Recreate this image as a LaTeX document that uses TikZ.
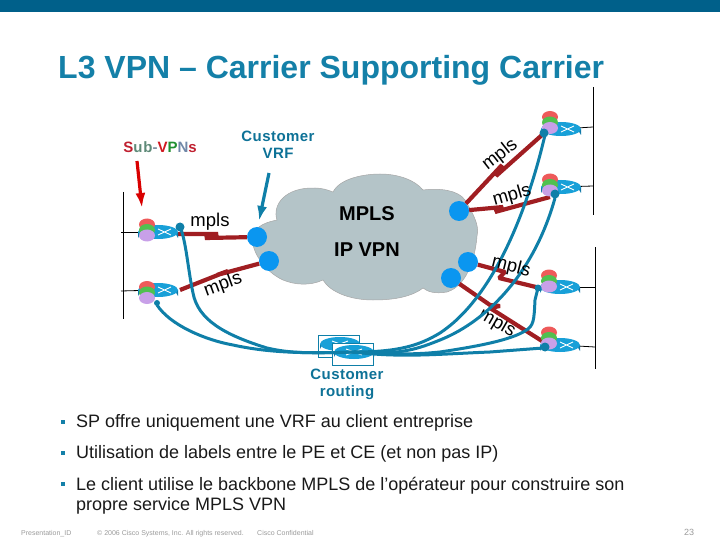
\documentclass[tikz,border=0pt]{standalone}
\usepackage{fontspec}
\usetikzlibrary{arrows.meta}
\setmainfont{Liberation Sans}
\definecolor{band}{HTML}{00608A}
\definecolor{wirec}{HTML}{0F7FA8}
\definecolor{linkc}{HTML}{A01E22}
\definecolor{cloudc}{HTML}{B4C4C8}
\definecolor{pe}{HTML}{0A96F0}
\definecolor{rtop}{HTML}{18A0D8}
\definecolor{rbot}{HTML}{0F78A8}
\definecolor{vred}{HTML}{EE5A5A}
\definecolor{vgreen}{HTML}{50C050}
\definecolor{vlil}{HTML}{C8A0E8}
\definecolor{foot}{HTML}{9A9A9A}
\definecolor{titlec}{HTML}{1480A8}
\tikzset{
 x=1pt,y=-1pt,
 wire/.style={draw=wirec,line width=3pt},
 dot/.style={fill=wirec},
 mlink/.style={draw=linkc,line width=4.2pt,line join=bevel},
 penode/.style={circle,fill=pe,minimum size=20pt,inner sep=0pt},
 seg/.style={draw=black,line width=0.8pt},
 ml/.style={font=\fontsize{18.5}{18.5}\selectfont,inner sep=0pt},
 big/.style={font=\bfseries\fontsize{20}{20}\selectfont,inner sep=0pt},
 bul/.style={font=\fontsize{18}{20}\selectfont,anchor=base west,inner sep=0pt,text=black!90},
 bsq/.style={fill=titlec,minimum size=4.5pt,inner sep=0pt},
 ft/.style={font=\fontsize{7}{8}\selectfont,text=foot,anchor=base west,inner sep=0pt},
 lab/.style={font=\bfseries\fontsize{15}{17}\selectfont\addfontfeatures{LetterSpace=3},text=wirec!90!black,align=center,inner sep=0pt},
 arr/.style={line width=3.2pt,-{Latex[length=15pt,width=10pt]}},
}
% #1 centre, #2 disc dx, #3 disc dy
\newcommand{\rtr}[3]{%
 \fill[rbot] (#1) ++(-20,0) -- ++(0,6) arc[x radius=20,y radius=7,start angle=180,end angle=360] -- ++(0,-6) -- cycle;
 \fill[rtop] (#1) ellipse[x radius=20,y radius=7];
 \draw[white,line width=0.9pt] (#1) ++(0,-3) -- ++(13,6) ++(-13,0) -- ++(13,-6);
 \fill[vred] (#1) ++(#2,#3) ++(0,-5.5) ellipse[x radius=8,y radius=6];
 \fill[vgreen] (#1) ++(#2,#3) ellipse[x radius=8,y radius=6];
 \fill[vlil] (#1) ++(#2,#3) ++(0,5.5) ellipse[x radius=8,y radius=6];
}
\newcommand{\crtr}[1]{%
 \draw[wirec,line width=0.8pt,fill=white] (#1) ++(-22,-9) rectangle ++(41,22);
 \fill[rbot] (#1) ++(-20,0) -- ++(0,5) arc[x radius=20,y radius=7,start angle=180,end angle=360] -- ++(0,-5) -- cycle;
 \fill[rtop] (#1) ellipse[x radius=20,y radius=7];
 \draw[white,line width=0.9pt] (#1) ++(-8,-3) -- ++(16,6) ++(-16,0) -- ++(16,-6);
}
\begin{document}
\begin{tikzpicture}
\useasboundingbox (0,0) rectangle (720,540);
\fill[band] (0,0) rectangle (720,12);
\node[anchor=base west,inner sep=0pt,font=\bfseries\fontsize{32}{36}\selectfont,text=titlec] (title) at (58,79) {L3 VPN – Carrier Supporting Carrier};

\coordinate (la1) at (123,192); \coordinate (la2) at (123,319);
\draw[seg] (la1) -- (la2);
\coordinate (ra1) at (593,87); \coordinate (ra2) at (593,215);
\draw[seg] (ra1) -- (ra2);
\coordinate (rb1) at (595,247); \coordinate (rb2) at (595,369);
\draw[seg] (rb1) -- (rb2);

\fill[cloudc,draw=black!35,line width=0.5pt] (277,220)
 .. controls (272,205) and (285,187) .. (315,188)
 .. controls (322,188) and (328,190) .. (333,192)
 .. controls (340,178) and (365,174) .. (380,174)
 .. controls (398,174) and (415,180) .. (423,190)
 .. controls (440,188) and (458,190) .. (465,200)
 .. controls (472,212) and (480,225) .. (477,236)
 .. controls (476,250) and (470,285) .. (447,292)
 .. controls (435,294) and (428,292) .. (423,288)
 .. controls (410,298) and (390,300) .. (373,300)
 .. controls (350,300) and (330,292) .. (323,280)
 .. controls (310,286) and (295,285) .. (283,280)
 .. controls (265,272) and (250,250) .. (253,237)
 .. controls (255,225) and (268,222) .. (277,220) -- cycle;

\node[big] (mplsT) at (367,214) {MPLS};
\node[big] (ipT) at (367,250) {IP VPN};

\node[penode] (pe1) at (257,237) {};
\node[penode] (pe2) at (269,261) {};
\node[penode] (pe3) at (459,211) {};
\node[penode] (pe4) at (468,262) {};
\node[penode] (pe5) at (451,278) {};

\coordinate (r1) at (158,232);
\coordinate (r2) at (158,290);
\coordinate (r3) at (561,129);
\coordinate (r4) at (561,187);
\coordinate (r5) at (560,287);
\coordinate (r6) at (560,345);
\coordinate (c1) at (340,344);
\coordinate (c2) at (354,352);

\node[ml,rotate=-30] (m6) at (497,323) {mpls};

\draw[mlink] (pe1) -- (205,238) -- (218,234) -- (178,234);
\draw[mlink] (pe2) -- (217,275) -- (228,271) -- (180,290);
\draw[mlink] (pe3) -- (502,165) -- (496,176) -- (542,135);
\draw[mlink] (pe3) -- (503,207) -- (495,212) -- (550,197);
\draw[mlink] (pe4) -- (505,272) -- (499,278) -- (540,288);
\draw[mlink] (pe5) -- (490,305) -- (500,306) -- (490,308) -- (542,341);

\draw[seg] (r1) -- (121,232);
\draw[seg] (r2) -- (121,291);
\draw[seg] (r3) -- (593,127);
\draw[seg] (r4) -- (593,186);
\draw[seg] (r5) -- (595,287);
\draw[seg] (r6) -- (595,347);

\rtr{r1}{-11}{-2}
\rtr{r2}{-11}{2.5}
\rtr{r3}{-11}{-6.5}
\rtr{r4}{-11}{-2}
\rtr{r5}{-11}{-6}
\rtr{r6}{-11}{-7}

\crtr{c1}
\crtr{c2}

\draw[wire] (180,227) .. controls (186,240) and (188,270) .. (193,293) .. controls (198,320) and (225,335) .. (267,348) .. controls (285,352) and (300,354) .. (c2);
\draw[wire] (157,305) .. controls (170,325) and (205,340) .. (233,345) .. controls (265,352) and (300,354) .. (c2);
\draw[wire] (c2) .. controls (400,352) and (420,345) .. (440,333) .. controls (490,300) and (525,220) .. (545,135);
\draw[wire] (c2) .. controls (400,356) and (420,348) .. (440,340) .. controls (490,320) and (535,270) .. (555,198);
\draw[wire] (c2) .. controls (400,355) and (420,354) .. (440,352) .. controls (480,346) and (510,340) .. (525,331) .. controls (534,326) and (534,320) .. (535,300) -- (538,288);
\draw[wire] (c2) .. controls (400,358) and (440,354) .. (490,352) -- (543,348);
\fill[dot] (180,227) circle (4.5);
\fill[dot] (544,133) circle (4.5);
\fill[dot] (555,194) circle (4.5);
\fill[dot] (538,288) circle (3.5);
\fill[dot] (545,347) circle (4.5);
\fill[dot] (157,303) circle (3);

\node[ml] (m1) at (210,222) {mpls};
\node[ml,rotate=20] (m2) at (223,285) {mpls};
\node[ml,rotate=38] (m3) at (500,155) {mpls};
\node[ml,rotate=16] (m4) at (512,196) {mpls};
\node[ml,rotate=-14] (m5) at (511,267) {mpls};

\definecolor{subS}{HTML}{C02030}
\definecolor{subU}{HTML}{5E8A78}
\definecolor{subD}{HTML}{8090A0}
\definecolor{subV}{HTML}{D01820}
\definecolor{subP}{HTML}{209030}
\definecolor{subN}{HTML}{7088A8}
\node[inner sep=0pt,font=\bfseries\fontsize{15}{17}\selectfont\addfontfeatures{LetterSpace=6}] (sub) at (160,147) {\textcolor{subS}{S}\textcolor{subU}{ub}\textcolor{subD}{-}\textcolor{subV}{V}\textcolor{subP}{P}\textcolor{subN}{N}\textcolor{subS}{s}};
\node[lab] (cvrf) at (278,144.5) {Customer\\VRF};
\node[lab] (crout) at (347,384.5) {Customer\\routing};

\coordinate (sa1) at (137,161);
\coordinate (sa2) at (142,208);
\coordinate (ca1) at (269,173);
\coordinate (ca2) at (259,221);
\draw[arr,draw=red!85!black,fill=red!85!black] (sa1) -- (sa2);
\draw[arr,draw=wirec,fill=wirec] (ca1) -- (ca2);

\node[bsq] (s1) at (63,422) {};
\node[bsq] (s2) at (63,453) {};
\node[bsq] (s3) at (63,484) {};
\node[bul] (b1) at (76,427) {SP offre uniquement une VRF au client entreprise};
\node[bul] (b2) at (76,458) {Utilisation de labels entre le PE et CE (et non pas IP)};
\node[bul] (b3) at (76,490) {Le client utilise le backbone MPLS de l’opérateur pour construire son};
\node[bul] (b4) at (76,510) {propre service MPLS VPN};

\node[ft] (f1) at (21,535) {Presentation\_ID};
\node[ft] (f2) at (97,535) {© 2006 Cisco Systems, Inc. All rights reserved.};
\node[ft] (f3) at (257,535) {Cisco Confidential};
\node[ft,font=\fontsize{9}{10}\selectfont] (f4) at (684,535) {23};
\end{tikzpicture}
\end{document}
